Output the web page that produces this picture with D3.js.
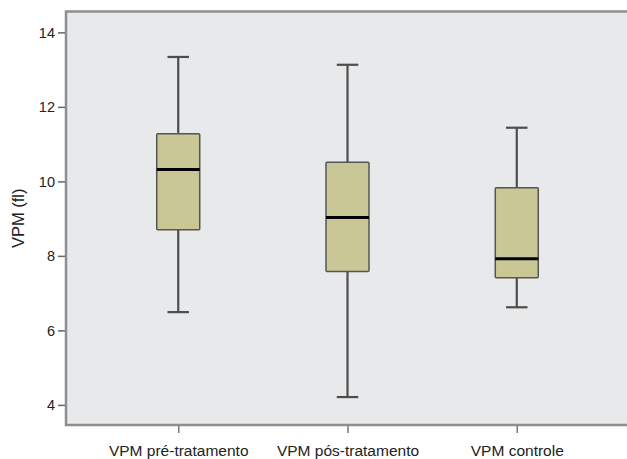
<!DOCTYPE html>
<html>
<head>
<meta charset="utf-8">
<script src="https://cdn.jsdelivr.net/npm/d3@7"></script>
<style>
  html, body { margin: 0; padding: 0; background: #fff; }
  svg { display: block; font-family: "Liberation Sans", Arial, sans-serif; }
</style>
</head>
<body>
<svg id="chart" width="627" height="459"></svg>
<script>
const categories = ["VPM pré-tratamento", "VPM pós-tratamento", "VPM controle"];
const whiskerLow  = [6.49, 4.21, 6.62];
const q1          = [8.70, 7.58, 7.41];
const median      = [10.32, 9.03, 7.92];
const q3          = [11.28, 10.51, 9.83];
const whiskerHigh = [13.34, 13.13, 11.44];
const yTicks = [4, 6, 8, 10, 12, 14];
const yLabel = "VPM (fl)";

const boxes = categories.map((c, i) => ({
  cat: c, lo: whiskerLow[i], q1: q1[i], med: median[i], q3: q3[i], hi: whiskerHigh[i]
}));

const svg = d3.select("#chart");
const pLeft = 66, pRight = 629, pTop = 11.5, pBottom = 425;

const y = d3.scaleLinear().domain([3.46, 14.56]).range([pBottom, pTop]);
const x = d3.scalePoint().domain(categories).range([pLeft, pRight]).padding(0.663);
const step = x.step();
const boxW = step * 0.254;
const capW = boxW * 0.5;

// plot background
svg.append("rect")
  .attr("x", pLeft).attr("y", pTop)
  .attr("width", pRight - pLeft).attr("height", pBottom - pTop)
  .attr("fill", "#e8e9eb");

// frame lines (left, top, bottom)
const frame = svg.append("g").attr("stroke", "#8e8e8e").attr("stroke-width", 2.5).attr("fill", "none");
frame.append("path").attr("d", `M${pRight},${pTop}H${pLeft}V${pBottom}H${pRight}`);

// y axis
const yAxis = d3.axisLeft(y).tickValues(yTicks).tickSize(7).tickPadding(3).tickFormat(d3.format("d"));
const yg = svg.append("g").attr("transform", `translate(${pLeft - 1},0)`).call(yAxis);
yg.select(".domain").remove();
yg.selectAll(".tick line").attr("stroke", "#666").attr("stroke-width", 1.5);
yg.selectAll(".tick text").attr("fill", "#222").style("font-size", "14.5px");

// x axis
const xAxis = d3.axisBottom(x).tickSize(7).tickPadding(12);
const xg = svg.append("g").attr("transform", `translate(0,${pBottom + 1})`).call(xAxis);
xg.select(".domain").remove();
xg.selectAll(".tick line").attr("stroke", "#777").attr("stroke-width", 1.5);
xg.selectAll(".tick text").attr("fill", "#222").style("font-size", "15.5px");

// y label
svg.append("text")
  .attr("transform", `translate(24,${(pTop + pBottom) / 2}) rotate(-90)`)
  .attr("text-anchor", "middle")
  .attr("fill", "#222")
  .style("font-size", "16.5px")
  .text(yLabel);

// boxes
const g = svg.append("g");
const bx = g.selectAll("g.box").data(boxes).join("g").attr("class", "box");

// whiskers
bx.append("line")
  .attr("x1", d => x(d.cat)).attr("x2", d => x(d.cat))
  .attr("y1", d => y(d.hi)).attr("y2", d => y(d.q3))
  .attr("stroke", "#4d4d4d").attr("stroke-width", 2.2);
bx.append("line")
  .attr("x1", d => x(d.cat)).attr("x2", d => x(d.cat))
  .attr("y1", d => y(d.q1)).attr("y2", d => y(d.lo))
  .attr("stroke", "#4d4d4d").attr("stroke-width", 2.2);
bx.append("line")
  .attr("x1", d => x(d.cat) - capW / 2).attr("x2", d => x(d.cat) + capW / 2)
  .attr("y1", d => y(d.hi)).attr("y2", d => y(d.hi))
  .attr("stroke", "#4d4d4d").attr("stroke-width", 2.2);
bx.append("line")
  .attr("x1", d => x(d.cat) - capW / 2).attr("x2", d => x(d.cat) + capW / 2)
  .attr("y1", d => y(d.lo)).attr("y2", d => y(d.lo))
  .attr("stroke", "#4d4d4d").attr("stroke-width", 2.2);

// box body
bx.append("rect")
  .attr("x", d => x(d.cat) - boxW / 2)
  .attr("width", boxW)
  .attr("y", d => y(d.q3))
  .attr("height", d => y(d.q1) - y(d.q3))
  .attr("rx", 1)
  .attr("fill", "#c8c795")
  .attr("stroke", "#555")
  .attr("stroke-width", 1.5);

// median
bx.append("line")
  .attr("x1", d => x(d.cat) - boxW / 2).attr("x2", d => x(d.cat) + boxW / 2)
  .attr("y1", d => y(d.med)).attr("y2", d => y(d.med))
  .attr("stroke", "#000").attr("stroke-width", 3);
</script>
</body>
</html>
